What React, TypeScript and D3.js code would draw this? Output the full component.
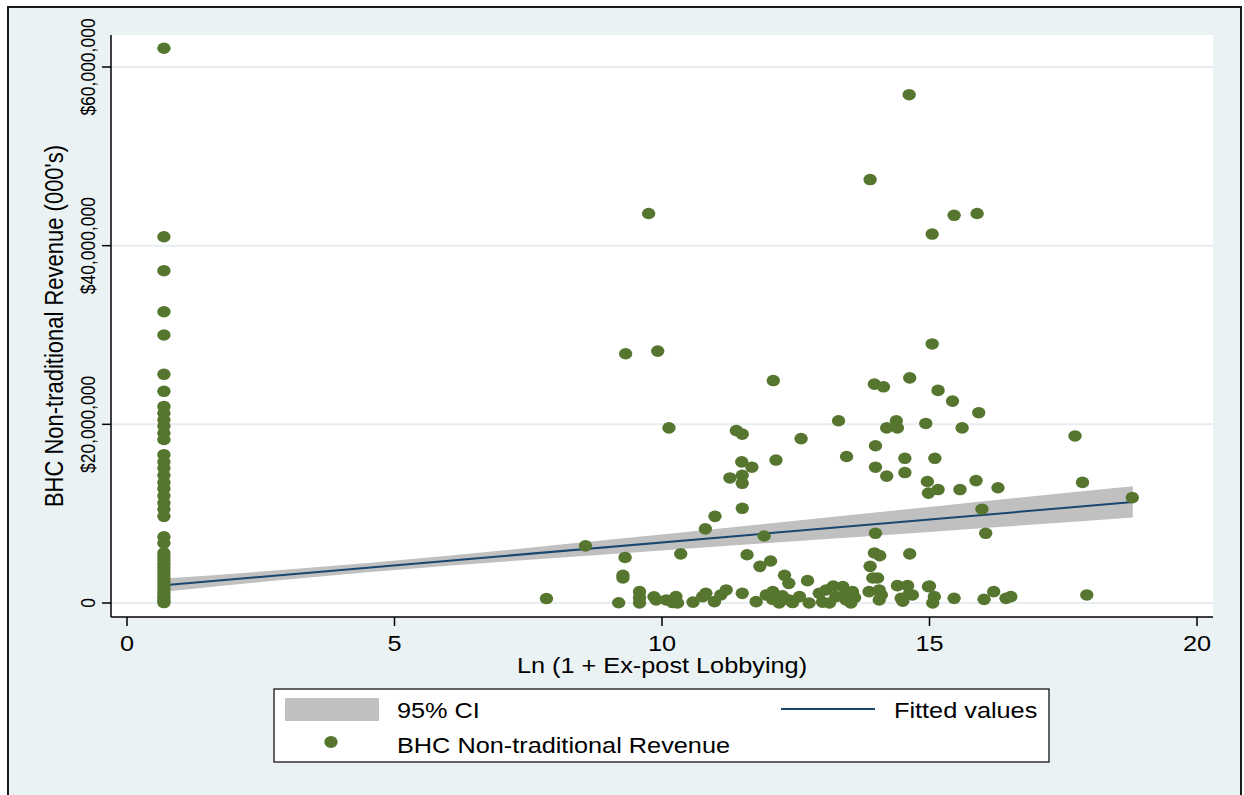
import * as d3 from 'd3';

// Left column: banks with no ex-post lobbying, ln(1 + 0) plotted at ln 2
const noLobbyX = 0.69;
const noLobbyRevenue = [
  62.1, 41.0, 37.2, 32.6, 30.0, 25.6, 23.7, 22.0, 21.25, 20.5, 19.8, 19.0, 18.3,
  16.6, 15.8, 15.1, 14.3, 13.5, 12.8, 12.0, 11.2, 10.5, 9.7, 7.4, 6.7, 5.6, 5.2,
  4.8, 4.4, 4.0, 3.6, 3.2, 2.8, 2.4, 2.0, 1.6, 1.2, 0.8, 0.5, 0.25, 0.05,
];

// Lobbying banks: ln(1 + ex-post lobbying) and revenue in $ millions of thousands
const lobbying = [
  9.75, 13.89, 14.62, 15.05, 15.46, 15.89,
  9.32, 9.92, 12.08, 13.3, 10.13, 11.39, 11.5, 12.6, 11.49, 11.68, 12.13, 11.27,
  11.5, 11.5, 11.5, 10.99, 10.81, 8.57, 11.91, 9.31, 10.35, 11.59, 11.83, 12.03,
  9.27, 9.27, 12.29, 12.37, 12.72, 7.84, 9.19,
  9.58, 9.58, 9.89, 10.08, 10.26, 10.29, 10.58, 10.76, 10.82, 10.98, 11.1, 11.2,
  11.5, 11.76, 11.95, 12.07, 12.19, 12.38, 12.57, 12.75, 12.94, 13.07, 13.13, 13.25,
  9.58, 9.85, 10.2, 12.07, 12.25, 12.44, 13.0, 13.2,
  15.05, 13.97, 14.14, 14.63, 15.16, 15.43, 15.92, 14.2, 14.38, 14.4, 14.93, 15.61,
  17.72, 13.45, 13.99, 13.99, 14.2, 14.54, 14.54, 15.1, 14.96, 14.98, 15.16, 15.57,
  15.87, 16.28, 17.86, 18.79, 15.98, 13.99, 16.05, 13.97, 14.07, 14.63, 13.89,
  13.94, 14.03, 17.94,
  13.38, 13.44, 13.56, 13.53, 13.87, 14.06, 14.06, 14.4, 14.59, 14.47, 14.68,
  14.98, 15.09, 15.06, 15.46, 16.02, 16.2, 16.43, 16.52,
  13.4, 13.6, 14.1, 14.5, 14.62, 15.0,
];
const revenue = [
  43.6, 47.4, 56.9, 41.3, 43.4, 43.6,
  27.9, 28.2, 24.9, 20.4, 19.6, 19.3, 18.9, 18.4, 15.8, 15.2, 16.0, 14.0,
  14.3, 13.4, 10.6, 9.7, 8.3, 6.4, 7.5, 5.1, 5.5, 5.4, 4.1, 4.7,
  3.1, 2.8, 3.1, 2.2, 2.5, 0.5, 0.03,
  1.27, 0.0, 0.34, 0.34, 0.71, 0.0, 0.1, 0.71, 1.08, 0.15, 0.9, 1.46,
  1.08, 0.15, 0.9, 1.27, 0.0, 0.34, 0.71, 0.0, 1.08, 1.46, 0.0, 0.71,
  0.6, 0.7, 0.05, 0.4, 0.8, 0.05, 0.1, 1.9,
  29.0, 24.5, 24.2, 25.2, 23.8, 22.6, 21.3, 19.6, 20.4, 19.6, 20.1, 19.6,
  18.7, 16.4, 17.6, 15.2, 14.2, 16.2, 14.6, 16.2, 13.6, 12.3, 12.7, 12.7,
  13.7, 12.9, 13.5, 11.8, 10.5, 7.8, 7.8, 5.6, 5.3, 5.5, 4.1,
  2.8, 2.8, 0.9,
  1.83, 0.34, 1.27, 0.0, 1.27, 1.46, 0.34, 1.94, 1.94, 0.52, 0.9,
  1.83, 0.71, 0.0, 0.52, 0.41, 1.27, 0.52, 0.71,
  0.8, 0.6, 0.9, 0.2, 1.0, 1.9,
];

// Fitted line and 95% CI
const fitX = [0.69, 18.8];
const fitY = [2.0, 11.3];
const ciX = [0.69, 3, 6, 9, 12, 15, 18.8];
const ciLo = [1.27, 2.63, 4.16, 5.47, 6.73, 7.96, 9.56];
const ciHi = [2.73, 3.75, 5.3, 7.07, 8.89, 10.76, 13.06];

const xTicks = [0, 5, 10, 15, 20];
const yTicks = [0, 20e6, 40e6, 60e6];
const yTickLabels = ['0', '$20,000,000', '$40,000,000', '$60,000,000'];

const W = 1244;
const H = 795;
const SX = 1.15; // the picture is stretched sideways
const FONT = "'Liberation Sans', Arial, sans-serif";
const DOT = '#56762f';
const NAVY = '#1a476f';
const CI_FILL = '#c0c0c0';
const BG = '#eaf2f3';
const GRID = '#e6eef1';

const plot = { left: 111, right: 1213, top: 35, bottom: 617 };

export default function App() {
  const x = d3.scaleLinear().domain([0, 20]).range([127, 1197]);
  const y = d3.scaleLinear().domain([0, 60e6]).range([603, 67]);
  const M = 1e6;

  const band = d3
    .area<number>()
    .x((_, i) => x(ciX[i]))
    .y0((_, i) => y(ciLo[i] * M))
    .y1((_, i) => y(ciHi[i] * M))
    .curve(d3.curveMonotoneX);
  const fit = d3
    .line<number>()
    .x((d) => x(d))
    .y((_, i) => y(fitY[i] * M));

  const stretch = (tx: number, ty: number) => `translate(${tx},${ty}) scale(${SX},1)`;

  return (
    <svg
      width={W}
      height={H}
      style={{ position: 'absolute', left: 0, top: 0, display: 'block', background: '#fff' }}
      fontFamily={FONT}
    >
      <rect x={8} y={7} width={1233} height={H} fill={BG} stroke="#1a1a1a" strokeWidth={2} />
      <rect x={plot.left} y={plot.top} width={plot.right - plot.left} height={plot.bottom - plot.top} fill="#fff" />

      {/* grid */}
      {yTicks.map((t) => (
        <line key={t} x1={plot.left} x2={plot.right} y1={y(t)} y2={y(t)} stroke={GRID} strokeWidth={2} />
      ))}

      {/* CI band and fitted line */}
      <path d={band(ciX) ?? ''} fill={CI_FILL} />
      <path d={fit(fitX) ?? ''} fill="none" stroke={NAVY} strokeWidth={2} />

      {/* scatter */}
      {noLobbyRevenue.map((v, i) => (
        <ellipse key={'n' + i} cx={x(noLobbyX)} cy={y(v * M)} rx={6.7} ry={5.8} fill={DOT} />
      ))}
      {lobbying.map((lx, i) => (
        <ellipse key={'l' + i} cx={x(lx)} cy={y(revenue[i] * M)} rx={6.7} ry={5.8} fill={DOT} />
      ))}

      {/* axes */}
      <line x1={plot.left} x2={plot.left} y1={plot.top} y2={plot.bottom} stroke="#000" strokeWidth={1.5} />
      <line x1={plot.left} x2={plot.right} y1={plot.bottom} y2={plot.bottom} stroke="#000" strokeWidth={1.5} />
      {yTicks.map((t, i) => (
        <g key={t}>
          <line x1={plot.left - 9} x2={plot.left} y1={y(t)} y2={y(t)} stroke="#000" strokeWidth={1.5} />
          <text
            transform={`translate(95,${y(t)}) scale(${SX},1) rotate(-90)`}
            textAnchor="middle"
            fontSize={17.5}
          >
            {yTickLabels[i]}
          </text>
        </g>
      ))}
      {xTicks.map((t) => (
        <g key={t}>
          <line x1={x(t)} x2={x(t)} y1={plot.bottom} y2={plot.bottom + 9} stroke="#000" strokeWidth={1.5} />
          <text transform={stretch(x(t), 651)} textAnchor="middle" fontSize={22}>
            {t}
          </text>
        </g>
      ))}

      <text transform={stretch((plot.left + plot.right) / 2, 673)} textAnchor="middle" fontSize={22}>
        Ln (1 + Ex-post Lobbying)
      </text>
      <text
        transform={`translate(63,${(plot.top + plot.bottom) / 2}) scale(${SX},1) rotate(-90)`}
        textAnchor="middle"
        fontSize={22}
      >
        BHC Non-traditional Revenue (000's)
      </text>

      {/* legend */}
      <rect x={274} y={689} width={775} height={73} fill="#fff" stroke="#000" strokeWidth={1.2} />
      <rect x={285} y={698} width={94} height={23} fill={CI_FILL} />
      <text transform={stretch(397, 718)} fontSize={22}>95% CI</text>
      <line x1={781} x2={875} y1={709} y2={709} stroke={NAVY} strokeWidth={2} />
      <text transform={stretch(894, 718)} fontSize={22}>Fitted values</text>
      <ellipse cx={331} cy={742} rx={6.7} ry={5.9} fill={DOT} />
      <text transform={stretch(397, 753)} fontSize={22}>BHC Non-traditional Revenue</text>
    </svg>
  );
}
